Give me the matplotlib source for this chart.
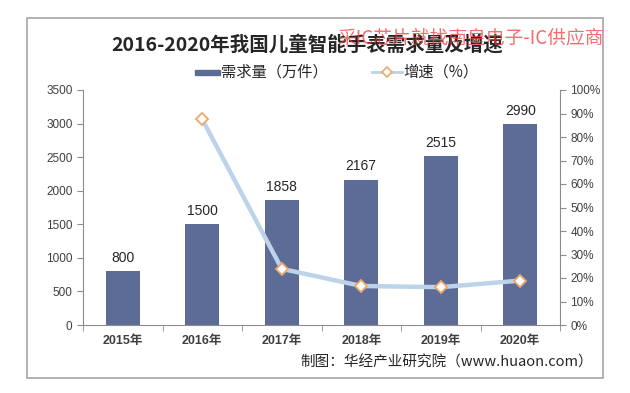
import numpy as np
import matplotlib.pyplot as plt
from matplotlib.patches import Rectangle

plt.rcParams['font.family'] = ['Noto Sans CJK SC', 'DejaVu Sans']

# data
years = ['2015年', '2016年', '2017年', '2018年', '2019年', '2020年']
demand = [800, 1500, 1858, 2167, 2515, 2990]
growth = [None, 87.5, 23.9, 16.6, 16.1, 18.9]

bar_color = '#5d6b97'
line_color = '#bcd3ea'
text_color = '#404040'
axis_color = '#8c8c8c'
num_font = ['Liberation Sans', 'Noto Sans CJK SC']

fig = plt.figure(figsize=(6.3, 3.93), dpi=100)

# outer frame
fig.patches.append(Rectangle((27 / 630, 1 - 378 / 393), 576 / 630, 360 / 393,
                             transform=fig.transFigure, fill=False,
                             edgecolor='#a6a6a6', linewidth=1.2))

ax = fig.add_axes([83 / 630, 1 - 325 / 393, 477 / 630, 235 / 393])
x = np.arange(len(years))
bars = ax.bar(x, demand, width=0.43, color=bar_color, zorder=2)
for xi, v in zip(x, demand):
    ax.text(xi, v + 90, str(v), ha='center', va='bottom', fontsize=10,
            color='#262626', family=num_font)

ax.set_xlim(-0.5, len(years) - 0.5)
ax.set_ylim(0, 3500)
ax.set_yticks(np.arange(0, 3501, 500))
ax.set_xticks(x)
ax.set_xticklabels(years, fontsize=9, fontweight='bold', color=text_color,
                   family=num_font)
ax.set_xticks(np.arange(-0.5, len(years)), minor=True)
ax.tick_params(axis='x', which='major', length=0, pad=7)
ax.tick_params(axis='x', which='minor', length=4, color=axis_color)
ax.tick_params(axis='y', labelsize=8.5, colors=text_color, color=axis_color, length=4)
for lab in ax.get_yticklabels():
    lab.set_family(num_font)
ax.spines['top'].set_visible(False)
ax.spines['right'].set_visible(False)
for s in ['left', 'bottom']:
    ax.spines[s].set_color(axis_color)

ax2 = ax.twinx()
gx = [xi for xi, g in zip(x, growth) if g is not None]
gy = [g for g in growth if g is not None]
ax2.plot(gx, gy, color=line_color, linewidth=3.2, zorder=3)
ax2.plot(gx, gy, linestyle='none', marker='D', markersize=6,
         markerfacecolor='white', markeredgecolor='#eda66a', markeredgewidth=1.3, zorder=4)
ax2.set_ylim(0, 100)
ax2.set_yticks(np.arange(0, 101, 10))
ax2.set_yticklabels([f'{v}%' for v in range(0, 101, 10)], family=num_font)
ax2.tick_params(axis='y', labelsize=8.5, colors=text_color, color=axis_color, length=4)
ax2.spines['top'].set_visible(False)
ax2.spines['left'].set_visible(False)
ax2.spines['bottom'].set_visible(False)
ax2.spines['right'].set_color(axis_color)

# title, legend, source
fig.text(307 / 630, 1 - 45 / 393, '2016-2020年我国儿童智能手表需求量及增速',
         ha='center', va='center', fontsize=14, fontweight='bold', color='#262626')
fig.text(604 / 630, 1 - 38 / 393, '采IC芯片就找南皇电子-IC供应商',
         ha='right', va='center', fontsize=13.5, color='#f03c3c', alpha=0.75)

fig.patches.append(Rectangle((195 / 630, 1 - 75 / 393), 25 / 630, 5 / 393,
                             transform=fig.transFigure, color=bar_color))
fig.text(221 / 630, 1 - 72 / 393, '需求量（万件）', ha='left', va='center',
         fontsize=11, color='#262626')
fig.lines.append(plt.Line2D([372 / 630, 402 / 630], [1 - 72 / 393, 1 - 72 / 393],
                            transform=fig.transFigure, color=line_color, linewidth=2))
fig.lines.append(plt.Line2D([387 / 630], [1 - 72 / 393], transform=fig.transFigure,
                            marker='D', markersize=5, markerfacecolor='white',
                            markeredgecolor='#eda66a', markeredgewidth=1.2))
fig.text(403 / 630, 1 - 72 / 393, '增速（%）', ha='left', va='center',
         fontsize=11, color='#262626')

fig.text(593 / 630, 1 - 362 / 393, '制图：华经产业研究院（www.huaon.com）',
         ha='right', va='center', fontsize=10.5, color='#262626')

fig.savefig('out.png', dpi=100)
